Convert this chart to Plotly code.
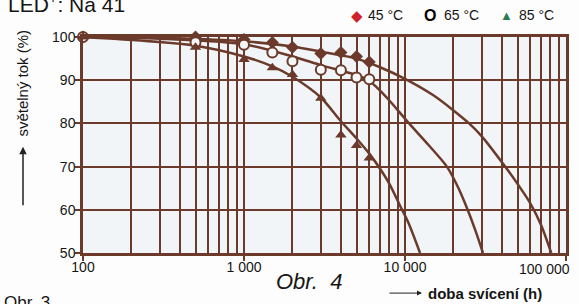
import plotly.graph_objects as go

BROWN = "#6b3a2a"

# measured points
x_45 = [100, 500, 1000, 1500, 2000, 3000, 4000, 5000, 6000]
y_45 = [100, 100, 99.4, 98.7, 97.6, 96.2, 96.4, 95.5, 94.2]
x_65 = [100, 500, 1000, 1500, 2000, 3000, 4000, 5000, 6000]
y_65 = [100, 98.8, 98.2, 96.4, 94.4, 92.4, 92.3, 90.6, 90.2]
x_85 = [100, 500, 1000, 1500, 2000, 3000, 4000, 5000, 6000]
y_85 = [100, 97.6, 94.8, 92.9, 91.3, 85.8, 77.3, 74.9, 72.0]

# fitted curves
cx_45 = [100, 300, 1000, 2000, 3000, 5000, 7000, 10000, 15000, 20000, 25000, 30000, 40000, 50000, 60000, 70000, 81000]
cy_45 = [100, 99.8, 99.0, 97.8, 96.6, 95.0, 93.0, 90.3, 86.5, 83.0, 80.0, 77.0, 71.0, 66.0, 61.5, 56.5, 50]
cx_65 = [100, 300, 1000, 2000, 3000, 4000, 5000, 6000, 7000, 8000, 10600, 14000, 18200, 21500, 24500, 27500, 30500]
cy_65 = [100, 99.6, 98.3, 95.5, 93.5, 92.2, 91.2, 89.8, 87.6, 85.3, 80.0, 75.0, 70.0, 65.0, 60.0, 55.0, 50]
cx_85 = [100, 500, 1000, 1500, 2000, 3000, 4000, 5000, 6000, 7000, 8000, 9300, 10500, 12400]
cy_85 = [100, 98.0, 95.5, 93.2, 90.8, 86.0, 80.5, 76.5, 73.0, 69.5, 66.0, 61.0, 57.0, 50]

x_major = [100, 1000, 10000, 100000]
x_major_text = ["100", "1 000", "10 000", ""]
x_last_label = "100 000"
x_minor = [m * d for d in (100, 1000, 10000) for m in range(2, 10)]
y_ticks = [50, 60, 70, 80, 90, 100]

fig = go.Figure()
for cx, cy in ((cx_45, cy_45), (cx_65, cy_65), (cx_85, cy_85)):
    fig.add_trace(go.Scatter(x=cx, y=cy, mode="lines", line=dict(color=BROWN, width=2.5, shape="spline", smoothing=0.8),
                             hoverinfo="skip", showlegend=False, cliponaxis=True))

fig.add_trace(go.Scatter(x=x_45, y=y_45, mode="markers", showlegend=False, cliponaxis=False,
                         marker=dict(symbol="diamond", size=10, color=BROWN)))
fig.add_trace(go.Scatter(x=x_65, y=y_65, mode="markers", showlegend=False, cliponaxis=False,
                         marker=dict(symbol="circle", size=10, color="#f6f7f9", line=dict(color=BROWN, width=2))))
fig.add_trace(go.Scatter(x=x_85, y=y_85, mode="markers", showlegend=False, cliponaxis=False,
                         marker=dict(symbol="triangle-up", size=10, color=BROWN)))

FONT = "Liberation Sans, Arial, sans-serif"

fig.update_layout(
    width=579, height=304,
    margin=dict(l=83, r=13, t=37, b=51, autoexpand=False),
    paper_bgcolor="#fdfdfd", plot_bgcolor="#f2f5f8",
    font=dict(family=FONT, size=14, color="#151515"),
    showlegend=False,
)
fig.update_xaxes(type="log", range=[2, 5], tickvals=x_major, ticktext=x_major_text,
                 ticks="outside", ticklen=5, tickwidth=2, tickcolor=BROWN,
                 showgrid=True, gridcolor=BROWN, gridwidth=2,
                 minor=dict(tickvals=x_minor, showgrid=True, gridcolor=BROWN, gridwidth=2, ticks=""),
                 showline=True, linewidth=2.5, linecolor=BROWN, mirror=True,
                 tickfont=dict(size=14), zeroline=False, automargin=False,
                 ticklabeloverflow="allow", ticklabelstandoff=-6)
fig.update_yaxes(range=[50, 100], tickvals=y_ticks,
                 ticks="outside", ticklen=5, tickwidth=2, tickcolor=BROWN,
                 showgrid=True, gridcolor=BROWN, gridwidth=2,
                 showline=True, linewidth=2.5, linecolor=BROWN, mirror=True,
                 tickfont=dict(size=14), zeroline=False, automargin=False,
                 ticklabeloverflow="allow", ticklabelstandoff=-3)

def px(x):
    return (x - 83) / 483.0

def py(y):
    return (253 - y) / 215.5

ann = [
    dict(text="LED<sup>+</sup>: Na 41", x=px(6), y=py(19), xanchor="left", yanchor="bottom", font=dict(size=21)),
    dict(text="◆", x=px(357), y=py(16), xanchor="center", yanchor="middle", font=dict(size=15, color="#d0202a")),
    dict(text="45 °C", x=px(366), y=py(16), xanchor="left", yanchor="middle", font=dict(size=14)),
    dict(text="<b>O</b>", x=px(430), y=py(16), xanchor="center", yanchor="middle", font=dict(size=16, color="#000")),
    dict(text="65 °C", x=px(442), y=py(16), xanchor="left", yanchor="middle", font=dict(size=14)),
    dict(text="▲", x=px(506), y=py(16), xanchor="center", yanchor="middle", font=dict(size=13, color="#2a7a52")),
    dict(text="85 °C", x=px(517), y=py(16), xanchor="left", yanchor="middle", font=dict(size=14)),
    dict(text=x_last_label, x=px(572), y=py(269), xanchor="right", yanchor="middle", font=dict(size=14)),
    dict(text="<i>Obr.  4</i>", x=px(309), y=py(281), xanchor="center", yanchor="middle", font=dict(size=22)),
    dict(text="<b>doba svícení (h)</b>", x=px(426), y=py(293), xanchor="left", yanchor="middle", font=dict(size=15)),
    dict(text="světelný tok (%)", x=px(23), y=py(84), xanchor="center", yanchor="middle", textangle=-90, font=dict(size=15)),
    dict(text="Obr. 3", x=px(2), y=py(302), xanchor="left", yanchor="middle", font=dict(size=17)),
    # arrows
    dict(text="", x=px(422), y=py(293), ax=-34, ay=0, showarrow=True, arrowhead=2, arrowsize=1, arrowwidth=1, arrowcolor="#222"),
    dict(text="", x=px(23), y=py(147), ax=0, ay=60, showarrow=True, arrowhead=2, arrowsize=1, arrowwidth=1.5, arrowcolor="#222"),
]
for a in ann:
    a.setdefault("showarrow", False)
    a["xref"] = "paper"
    a["yref"] = "paper"
    fig.add_annotation(**a)

fig.write_html("out.html", config={"displayModeBar": False},
               post_script="document.body.style.margin='0';")
